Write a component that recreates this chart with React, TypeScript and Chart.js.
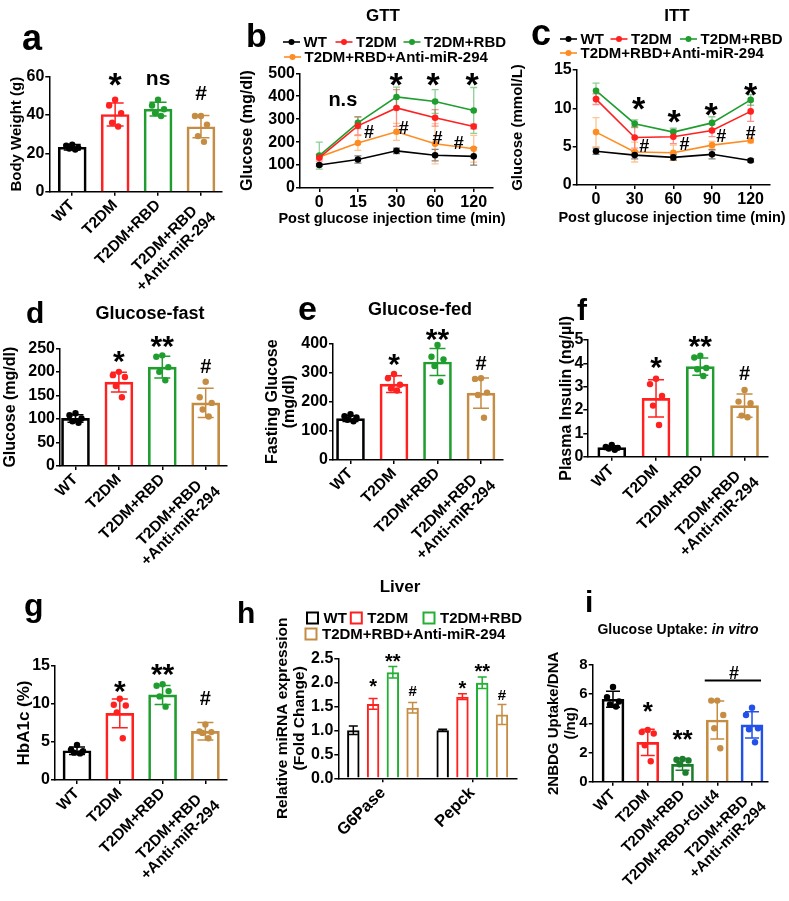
import React, { useEffect, useRef } from "react";
import { Chart, registerables } from "chart.js";

Chart.register(...registerables);

const PAGE_W = 789;
const PAGE_H = 901;
const FONT = "'Liberation Sans', Arial, Helvetica, sans-serif";

const BLACK = "#000000";
const RED = "#ff2020";
const GREEN = "#1f9e2f";
const TAN = "#c58c43";
const ORANGE = "#ff8c22";
const BLUE = "#2350e8";
const DARKGREEN = "#1c7d2c";

// ---------------- data ----------------
const GROUPS = ["WT", "T2DM", "T2DM+RBD", ["T2DM+RBD  ", "+Anti-miR-294"]];
const GROUPS_I = ["WT", "T2DM", "T2DM+RBD", "T2DM+RBD+Glut4", ["T2DM+RBD  ", "+Anti-miR-294"]];
const SERIES = ["WT", "T2DM", "T2DM+RBD", "T2DM+RBD+Anti-miR-294"];
const GTT_TIMES = ["0", "15", "30", "60", "120"];
const ITT_TIMES = ["0", "30", "60", "90", "120"];
const TIME_TITLE = "Post glucose injection time (min)";
const GENES = ["G6Pase", "Pepck"];

// a: body weight
const BW_MEAN = [23.2, 40.3, 43.1, 33.9];
const BW_SD = [1.4, 6.0, 3.6, 5.8];
const BW_PTS = [[24.5, 24, 23, 22.5, 22], [48, 45, 41, 36, 34], [48, 45, 43, 41, 39.5], [39.5, 39.5, 35, 29, 26]];
const BW_MARKS = [[1, 58.3, "*"], [2, 58.4, "ns"], [3, 51.5, "#"]];

// b: GTT
const GTT_WT = [100, 124, 162, 143, 138];
const GTT_WT_SD = [5, 16, 12, 25, 38];
const GTT_T2DM = [132, 271, 349, 306, 268];
const GTT_T2DM_SD = [15, 40, 80, 36, 10];
const GTT_RBD = [141, 284, 397, 377, 338];
const GTT_RBD_SD = [59, 25, 43, 52, 100];
const GTT_ANTI = [135, 196, 245, 193, 171];
const GTT_ANTI_SD = [10, 32, 37, 88, 58];
const GTT_MARKS = [[0.61, 357, "n.s"], [1.99, 474, "*"], [2.95, 474, "*"], [3.96, 474, "*"], [1.29, 248, "#"], [2.19, 263, "#"], [3.06, 220, "#"], [3.61, 200, "#"]];

// c: ITT
const ITT_WT = [4.4, 3.9, 3.6, 4.0, 3.2];
const ITT_WT_SD = [0.4, 0.5, 0.4, 0.6, 0.2];
const ITT_T2DM = [11.2, 6.2, 6.3, 7.1, 9.6];
const ITT_T2DM_SD = [0.7, 1.4, 0.9, 0.8, 1.3];
const ITT_RBD = [12.3, 8.0, 6.9, 8.1, 11.1];
const ITT_RBD_SD = [1.0, 0.5, 0.5, 0.8, 0.7];
const ITT_ANTI = [6.9, 4.3, 4.2, 5.2, 5.8];
const ITT_ANTI_SD = [1.9, 1.3, 1.0, 0.5, 0.3];
const ITT_MARKS = [[1.1, 9.4, "*"], [2.02, 8.9, "*"], [2.98, 9.9, "*"], [4.0, 12.5, "*"], [1.25, 5.2, "#"], [2.29, 5.4, "#"], [3.24, 6.4, "#"], [4.0, 6.8, "#"]];

// d: glucose fast
const GF_MEAN = [101, 178, 210, 134];
const GF_SD = [8, 21, 23, 31];
const GF_PTS = [[112, 108, 101, 95, 92], [200, 193, 189, 170, 146], [235, 232, 210, 200, 182], [179, 146, 134, 120, 105]];
const GF_MARKS = [[1, 232, "*"], [2, 264, "**"], [3, 212, "#"]];

// e: glucose fed
const GD_MEAN = [142, 260, 336, 229];
const GD_SD = [10, 29, 46, 52];
const GD_PTS = [[157, 150, 146, 138, 133], [295, 280, 258, 245, 238], [394, 354, 345, 322, 268], [280, 278, 231, 223, 145]];
const GD_MARKS = [[1, 343, "*"], [2, 429, "**"], [3, 333, "#"]];

// f: plasma insulin
const INS_MEAN = [0.39, 2.5, 3.86, 2.19];
const INS_SD = [0.08, 0.8, 0.37, 0.5];
const INS_PTS = [[0.5, 0.42, 0.38, 0.35, 0.3], [3.34, 3.11, 2.6, 2.19, 1.36], [4.33, 4.25, 3.8, 3.75, 3.46], [2.86, 2.36, 2.29, 1.76, 1.69]];
const INS_MARKS = [[1, 4.0, "*"], [2, 4.92, "**"], [3, 3.59, "#"]];

// g: HbA1c
const HBA_MEAN = [3.85, 8.77, 11.2, 6.4];
const HBA_SD = [0.5, 1.9, 1.25, 1.15];
const HBA_PTS = [[4.6, 4.0, 3.8, 3.6, 3.5], [10.7, 9.9, 9.8, 8.9, 5.5], [12.6, 12.4, 11.7, 11.0, 9.65], [7.3, 6.4, 6.3, 6.2, 5.5]];
const HBA_MARKS = [[1, 12.3, "*"], [2, 14.5, "**"], [3, 10.8, "#"]];

// h: liver expression
const LIV_WT = [1.0, 1.0];
const LIV_WT_SD = [0.09, 0.02];
const LIV_T2DM = [1.55, 1.7];
const LIV_T2DM_SD = [0.11, 0.06];
const LIV_RBD = [2.21, 1.99];
const LIV_RBD_SD = [0.12, 0.12];
const LIV_ANTI = [1.47, 1.33];
const LIV_ANTI_SD = [0.11, 0.21];
const LIV_MARKS = [[0, 1, 1.88, "*"], [0, 2, 2.5, "**"], [0, 3, 1.82, "#"], [1, 1, 1.94, "*"], [1, 2, 2.3, "**"], [1, 3, 1.74, "#"]];

// i: glucose uptake
const UP_MEAN = [5.65, 2.7, 1.19, 4.23, 3.89];
const UP_SD = [0.55, 0.9, 0.4, 1.3, 0.9];
const UP_PTS = [[6.5, 5.8, 5.5, 5.3, 5.15], [3.55, 3.4, 3.3, 2.5, 1.4], [1.56, 1.5, 1.45, 1.2, 0.62], [5.56, 5.56, 4.57, 3.66, 2.29], [5.07, 4.57, 3.66, 3.6, 2.7]];
const UP_MARKS = [[1, 5.14, "*"], [2, 3.2, "**"], [3.48, 7.48, "#"]];
const UP_BRACKET = [2.64, 4.26, 6.93];

// ---------------- drawing helpers ----------------
const JITTER = [0, -6, 6, -3, 3];

function withAlpha(hex: string, a: number) {
  const r = parseInt(hex.slice(1, 3), 16), g = parseInt(hex.slice(3, 5), 16), b = parseInt(hex.slice(5, 7), 16);
  return `rgba(${r},${g},${b},${a})`;
}

function drawErrors(chart: any, layer: string) {
  const ctx = chart.ctx;
  const ys = chart.scales.y;
  chart.data.datasets.forEach((ds: any, di: number) => {
    if (!ds.errs || (ds.errLayer || "after") !== layer) return;
    const meta = chart.getDatasetMeta(di);
    meta.data.forEach((el: any, i: number) => {
      const v = ds.vals[i];
      const e = ds.errs[i];
      const col = Array.isArray(ds.errColor) ? ds.errColor[i] : ds.errColor;
      const x = el.x;
      const y1 = ys.getPixelForValue(v + e);
      const y2 = ys.getPixelForValue(Math.max(0, v - e));
      const cw = ds.capW / 2;
      ctx.save();
      ctx.strokeStyle = col;
      ctx.lineWidth = ds.errW || 1.5;
      ctx.beginPath();
      ctx.moveTo(x, y1);
      ctx.lineTo(x, y2);
      ctx.moveTo(x - cw, y1);
      ctx.lineTo(x + cw, y1);
      ctx.moveTo(x - cw, y2);
      ctx.lineTo(x + cw, y2);
      ctx.stroke();
      ctx.restore();
    });
  });
}

function drawDots(chart: any) {
  const ctx = chart.ctx;
  const ys = chart.scales.y;
  chart.data.datasets.forEach((ds: any, di: number) => {
    if (!ds.pts) return;
    const meta = chart.getDatasetMeta(di);
    meta.data.forEach((el: any, i: number) => {
      const col = Array.isArray(ds.errColor) ? ds.errColor[i] : ds.errColor;
      ds.pts[i].forEach((p: number, k: number) => {
        ctx.save();
        ctx.fillStyle = col;
        ctx.beginPath();
        ctx.arc(el.x + JITTER[k % JITTER.length], ys.getPixelForValue(p), 3.2, 0, Math.PI * 2);
        ctx.fill();
        ctx.restore();
      });
    });
  });
}

function fillCentered(ctx: any, t: string, x: number, y: number) {
  const m = ctx.measureText(t);
  ctx.textAlign = "center";
  ctx.textBaseline = "alphabetic";
  ctx.fillText(t, x, y + (m.actualBoundingBoxAscent - m.actualBoundingBoxDescent) / 2);
}

function drawDecor(chart: any, d: any) {
  const ctx = chart.ctx;
  const xs = chart.scales.x;
  const ys = chart.scales.y;
  ctx.save();
  ctx.fillStyle = BLACK;
  if (d.letter) {
    ctx.font = `bold ${d.letter.size}px ${FONT}`;
    ctx.textAlign = "left";
    ctx.textBaseline = "alphabetic";
    ctx.fillText(d.letter.t, d.letter.x, d.letter.y);
  }
  (d.titles || []).forEach((tt: any) => {
    const fonts = tt.parts.map((p: any) => `${p.italic ? "italic " : ""}bold ${tt.size}px ${FONT}`);
    const widths = tt.parts.map((p: any, i: number) => {
      ctx.font = fonts[i];
      return ctx.measureText(p.t).width;
    });
    let x = tt.x - widths.reduce((a: number, b: number) => a + b, 0) / 2;
    ctx.textAlign = "left";
    ctx.textBaseline = "alphabetic";
    ctx.fillStyle = BLACK;
    tt.parts.forEach((p: any, i: number) => {
      ctx.font = fonts[i];
      ctx.fillText(p.t, x, tt.y);
      x += widths[i];
    });
  });
  if (d.legend) {
    const lg = d.legend;
    lg.items.forEach((it: any) => {
      ctx.save();
      ctx.strokeStyle = it.c;
      ctx.fillStyle = it.c;
      if (lg.kind === "line") {
        ctx.lineWidth = 1.6;
        ctx.beginPath();
        ctx.moveTo(it.x - 8.5, it.y);
        ctx.lineTo(it.x + 8.5, it.y);
        ctx.stroke();
        ctx.beginPath();
        ctx.arc(it.x, it.y, 3, 0, Math.PI * 2);
        ctx.fill();
      } else {
        ctx.lineWidth = 2;
        ctx.strokeRect(it.x - 5.5, it.y - 5.5, 11, 11);
      }
      ctx.restore();
      ctx.fillStyle = BLACK;
      ctx.font = `bold ${lg.size}px ${FONT}`;
      ctx.textAlign = "left";
      ctx.textBaseline = "middle";
      ctx.fillText(it.t, it.x + lg.gap, it.y + 1);
    });
  }
  if (d.marks) {
    d.marks.forEach((m: any[]) => {
      let px: number, py: number, t: string;
      if (m.length === 4) {
        px = chart.getDatasetMeta(m[1]).data[m[0]].x;
        py = ys.getPixelForValue(m[2]);
        t = m[3];
      } else {
        px = xs.getPixelForValue(m[0]);
        py = ys.getPixelForValue(m[1]);
        t = m[2];
      }
      const s = t.includes("*") ? d.markSize.star : t.includes("#") ? d.markSize.hash : d.markSize.text;
      ctx.font = `bold ${s}px ${FONT}`;
      ctx.fillStyle = BLACK;
      fillCentered(ctx, t, px, py);
    });
  }
  if (d.bracket) {
    const [x1, x2, y] = d.bracket;
    ctx.strokeStyle = BLACK;
    ctx.lineWidth = 2;
    ctx.beginPath();
    ctx.moveTo(xs.getPixelForValue(x1), ys.getPixelForValue(y));
    ctx.lineTo(xs.getPixelForValue(x2), ys.getPixelForValue(y));
    ctx.stroke();
  }
  ctx.restore();
}

function makeDecor(d: any) {
  return {
    id: "decor",
    beforeDatasetsDraw(chart: any) {
      drawErrors(chart, "before");
    },
    afterDatasetsDraw(chart: any) {
      drawErrors(chart, "after");
      drawDots(chart);
    },
    afterDraw(chart: any) {
      drawDecor(chart, d);
    },
  };
}

// ---------------- scale builders ----------------
function frame(L: number, T: number, R: number, B: number, yW: number, xH: number) {
  return { padding: { left: L - yW, right: PAGE_W - R, top: T, bottom: PAGE_H - B - xH } };
}

const gridOpts = { display: true, drawOnChartArea: false, drawTicks: true, tickLength: 4, color: BLACK, lineWidth: 1.5, offset: false };
const borderOpts = { display: true, color: BLACK, width: 1.5 };

function yAxis(o: any) {
  return {
    type: "linear",
    min: 0,
    max: o.max,
    afterFit: (s: any) => {
      s.width = o.yW;
    },
    ticks: {
      stepSize: o.step,
      color: BLACK,
      font: { family: FONT, size: o.tickSize || 16, weight: "bold" },
      padding: o.pad ?? 1,
      callback: o.fmt || ((v: any) => String(v)),
    },
    grid: gridOpts,
    border: borderOpts,
    title: {
      display: true,
      text: o.title,
      color: BLACK,
      font: { family: FONT, size: o.titleSize || 16, weight: "bold", lineHeight: o.lh || 1.2 },
      padding: 0,
    },
  };
}

function xIndexAxis(o: any) {
  return {
    type: "linear",
    min: o.min,
    max: o.max,
    offset: false,
    afterBuildTicks: (s: any) => {
      s.ticks = o.labels.map((_: any, i: number) => ({ value: i }));
    },
    afterFit: (s: any) => {
      s.height = o.xH;
    },
    ticks: {
      autoSkip: false,
      minRotation: o.rot,
      maxRotation: o.rot,
      color: BLACK,
      font: { family: FONT, size: o.size, weight: "bold", lineHeight: 1.12 },
      padding: o.pad ?? 1,
      callback: (v: any) => o.labels[Math.round(v)],
    },
    grid: gridOpts,
    border: borderOpts,
    title: { display: false },
  };
}

function baseOptions(layout: any, scales: any) {
  return {
    animation: false,
    responsive: false,
    events: [],
    layout,
    plugins: { legend: { display: false }, tooltip: { enabled: false }, title: { display: false } },
    scales,
  };
}

const BAR_XH = 118;

function barPanel(o: any) {
  const xH = o.xH || BAR_XH;
  const ds = {
    data: o.mean.map((y: number, i: number) => ({ x: i, y })),
    vals: o.mean,
    errs: o.sd,
    pts: o.pts,
    borderColor: o.colors,
    errColor: o.colors,
    backgroundColor: "rgba(255,255,255,0)",
    borderWidth: 2,
    barThickness: o.barW,
    capW: o.capW,
    borderSkipped: "bottom",
  };
  return {
    type: "bar",
    data: { datasets: [ds] },
    options: baseOptions(frame(o.L, o.T, o.R, o.B, o.yW, xH), {
      x: xIndexAxis({ labels: o.labels, min: o.xmin, max: o.xmax, xH, rot: o.rot || 45, size: o.xSize || 15.5, pad: 1 }),
      y: yAxis({ max: o.yMax, step: o.step, title: o.yTitle, titleSize: o.titleSize, tickSize: o.tickSize, yW: o.yW, lh: o.lh, pad: o.tickPad }),
    }),
    plugins: [makeDecor(o.decor)],
  };
}

function linePanel(o: any) {
  const datasets = o.series.map((s: any) => ({
    data: s.vals.map((y: number, i: number) => ({ x: i, y })),
    vals: s.vals,
    errs: s.sd,
    errColor: withAlpha(s.color, 0.5),
    errLayer: "before",
    capW: 7,
    errW: 1.3,
    borderColor: s.color,
    backgroundColor: s.color,
    pointBackgroundColor: s.color,
    pointBorderWidth: 0,
    pointRadius: 3.3,
    borderWidth: 1.6,
    tension: 0,
    fill: false,
  }));
  return {
    type: "line",
    data: { datasets },
    options: baseOptions(frame(o.L, o.T, o.R, o.B, o.yW, 40), {
      x: xIndexAxis({ labels: o.labels, min: -0.5, max: 4.5, xH: 40, rot: 0, size: 16, pad: 1.5 }),
      y: yAxis({ max: o.yMax, step: o.step, title: o.yTitle, titleSize: o.titleSize, tickSize: 16, yW: o.yW, pad: 1 }),
    }),
    plugins: [makeDecor(o.decor)],
  };
}

const COLORS4 = [BLACK, RED, GREEN, TAN];
const STD_MARK = { star: 30, hash: 20, text: 20 };

function configs() {
  const a = barPanel({
    labels: GROUPS, mean: BW_MEAN, sd: BW_SD, pts: BW_PTS, colors: COLORS4,
    L: 49.3, T: 76.7, R: 222, B: 191.7, yW: 41, xmin: -0.534, xmax: 3.49,
    yMax: 60, step: 10, yTitle: "Body Weight (g)", titleSize: 15, barW: 28, capW: 17,
    decor: { letter: { t: "a", x: 22, y: 50, size: 36 }, marks: BW_MARKS, markSize: { star: 34, hash: 21, text: 21 } },
  });

  const lineLegend = (x: number[], y: number[]) => ({
    kind: "line", size: 15, gap: 12,
    items: [
      { t: SERIES[0], x: x[0], y: y[0], c: BLACK },
      { t: SERIES[1], x: x[1], y: y[0], c: RED },
      { t: SERIES[2], x: x[2], y: y[0], c: GREEN },
      { t: SERIES[3], x: x[3], y: y[1], c: ORANGE },
    ],
  });

  const b = linePanel({
    labels: GTT_TIMES,
    series: [
      { vals: GTT_WT, sd: GTT_WT_SD, color: BLACK },
      { vals: GTT_T2DM, sd: GTT_T2DM_SD, color: RED },
      { vals: GTT_RBD, sd: GTT_RBD_SD, color: GREEN },
      { vals: GTT_ANTI, sd: GTT_ANTI_SD, color: ORANGE },
    ],
    L: 300, T: 73.3, R: 493, B: 188, yW: 61.6,
    yMax: 500, step: 100, yTitle: "Glucose (mg/dl)", titleSize: 16,
    decor: {
      letter: { t: "b", x: 246, y: 47, size: 34 },
      titles: [
        { parts: [{ t: "GTT" }], x: 383, y: 20.5, size: 17 },
        { parts: [{ t: TIME_TITLE }], x: 392, y: 223, size: 14.5 },
      ],
      legend: lineLegend([291.5, 344, 412, 292.5], [42, 57]),
      marks: GTT_MARKS, markSize: { star: 34, hash: 18, text: 20 },
    },
  });

  const c = linePanel({
    labels: ITT_TIMES,
    series: [
      { vals: ITT_WT, sd: ITT_WT_SD, color: BLACK },
      { vals: ITT_T2DM, sd: ITT_T2DM_SD, color: RED },
      { vals: ITT_RBD, sd: ITT_RBD_SD, color: GREEN },
      { vals: ITT_ANTI, sd: ITT_ANTI_SD, color: ORANGE },
    ],
    L: 576.7, T: 70, R: 770, B: 185, yW: 67.7,
    yMax: 15, step: 5, yTitle: "Glucose (mmol/L)", titleSize: 15,
    decor: {
      letter: { t: "c", x: 531, y: 45, size: 36 },
      titles: [
        { parts: [{ t: "ITT" }], x: 677, y: 20.5, size: 17 },
        { parts: [{ t: TIME_TITLE }], x: 672, y: 222, size: 14.5 },
      ],
      legend: lineLegend([568.5, 619, 688.5, 568.5], [39, 53]),
      marks: ITT_MARKS, markSize: { star: 34, hash: 18, text: 20 },
    },
  });

  const d = barPanel({
    labels: GROUPS, mean: GF_MEAN, sd: GF_SD, pts: GF_PTS, colors: COLORS4,
    L: 60, T: 348.3, R: 226.7, B: 466, yW: 58.6, xmin: -0.357, xmax: 3.484,
    yMax: 250, step: 50, yTitle: "Glucose (mg/dl)", titleSize: 16, barW: 28, capW: 16,
    decor: {
      letter: { t: "d", x: 26, y: 323, size: 30 },
      titles: [{ parts: [{ t: "Glucose-fast" }], x: 150, y: 318.5, size: 18 }],
      marks: GF_MARKS, markSize: STD_MARK,
    },
  });

  const e = barPanel({
    labels: GROUPS, mean: GD_MEAN, sd: GD_SD, pts: GD_PTS, colors: COLORS4,
    L: 333, T: 343.3, R: 503, B: 460, yW: 69, xmin: -0.402, xmax: 3.506,
    yMax: 400, step: 100, yTitle: ["Fasting Glucose", "(mg/dl)"], titleSize: 16, lh: 1.05, barW: 28, capW: 16,
    decor: {
      letter: { t: "e", x: 298, y: 320, size: 34 },
      titles: [{ parts: [{ t: "Glucose-fed" }], x: 420, y: 315, size: 18 }],
      marks: GD_MARKS, markSize: STD_MARK,
    },
  });

  const f = barPanel({
    labels: GROUPS, mean: INS_MEAN, sd: INS_SD, pts: INS_PTS, colors: COLORS4,
    L: 587.3, T: 340, R: 768, B: 456.7, yW: 30.4, xmin: -0.553, xmax: 3.53, tickPad: 0,
    yMax: 5, step: 1, yTitle: "Plasma Insulin (ng/µl)", titleSize: 16, barW: 28, capW: 16,
    decor: { letter: { t: "f", x: 577, y: 320, size: 30 }, marks: INS_MARKS, markSize: STD_MARK },
  });

  const g = barPanel({
    labels: GROUPS, mean: HBA_MEAN, sd: HBA_SD, pts: HBA_PTS, colors: COLORS4,
    L: 55, T: 666, R: 227, B: 780, yW: 41.2, xmin: -0.514, xmax: 3.505, xH: 114,
    yMax: 15, step: 5, yTitle: "HbA1c (%)", titleSize: 17, barW: 28, capW: 16,
    decor: { letter: { t: "g", x: 24, y: 616, size: 32 }, marks: HBA_MARKS, markSize: STD_MARK },
  });

  const hSeries = [
    { vals: LIV_WT, sd: LIV_WT_SD, color: BLACK, name: SERIES[0] },
    { vals: LIV_T2DM, sd: LIV_T2DM_SD, color: RED, name: SERIES[1] },
    { vals: LIV_RBD, sd: LIV_RBD_SD, color: "#22b033", name: SERIES[2] },
    { vals: LIV_ANTI, sd: LIV_ANTI_SD, color: TAN, name: SERIES[3] },
  ];
  const hL = 338.3, hT = 658.3, hR = 517, hB = 778.3, hYW = 63.4, hXH = 115;
  const h = {
    type: "bar",
    data: {
      labels: GENES,
      datasets: hSeries.map((s) => ({
        label: s.name,
        data: s.vals,
        vals: s.vals,
        errs: s.sd,
        errColor: s.color,
        capW: 9,
        borderColor: s.color,
        backgroundColor: "rgba(255,255,255,0)",
        borderWidth: 2,
        borderSkipped: "bottom",
        barPercentage: 0.63,
        categoryPercentage: 0.885,
      })),
    },
    options: baseOptions(frame(hL, hT, hR, hB, hYW, hXH), {
      x: {
        type: "category",
        offset: true,
        afterFit: (s: any) => {
          s.height = hXH;
        },
        ticks: { autoSkip: false, minRotation: 45, maxRotation: 45, color: BLACK, font: { family: FONT, size: 16.5, weight: "bold" }, padding: 1 },
        grid: gridOpts,
        border: borderOpts,
      },
      y: yAxis({
        max: 2.5, step: 0.5, title: ["Relative miRNA expression", "(Fold Change)"], titleSize: 15.5, lh: 1.05, tickSize: 16, yW: hYW, pad: 1,
        fmt: (v: any) => Number(v).toFixed(1),
      }),
    }),
    plugins: [
      makeDecor({
        letter: { t: "h", x: 237, y: 623, size: 30 },
        titles: [{ parts: [{ t: "Liver" }], x: 400, y: 591.5, size: 17 }],
        legend: {
          kind: "box", size: 15, gap: 11,
          items: [
            { t: SERIES[0], x: 312.5, y: 618, c: BLACK },
            { t: SERIES[1], x: 356.3, y: 618, c: RED },
            { t: SERIES[2], x: 429, y: 618, c: "#22b033" },
            { t: SERIES[3], x: 311, y: 634, c: TAN },
          ],
        },
        marks: LIV_MARKS, markSize: { star: 20, hash: 15, text: 15 },
      }),
    ],
  };

  const i = barPanel({
    labels: GROUPS_I, mean: UP_MEAN, sd: UP_SD, pts: UP_PTS, colors: [BLACK, RED, DARKGREEN, TAN, BLUE],
    L: 592.7, T: 665, R: 768, B: 781.7, yW: 47, xmin: -0.584, xmax: 4.46, xSize: 15, xH: 115,
    yMax: 8, step: 2, yTitle: ["2NBDG Uptake/DNA", "(/ng)"], titleSize: 15, lh: 1.1, tickSize: 15, barW: 22, capW: 14,
    decor: {
      letter: { t: "i", x: 585, y: 612, size: 30 },
      titles: [{ parts: [{ t: "Glucose Uptake: " }, { t: "in vitro", italic: true }], x: 678, y: 634, size: 14 }],
      marks: UP_MARKS, markSize: { star: 26, hash: 18, text: 18 },
      bracket: UP_BRACKET,
    },
  });

  return [a, b, c, d, e, f, g, h, i];
}

function ChartLayer({ config }: { config: any }) {
  const ref = useRef<HTMLCanvasElement | null>(null);
  useEffect(() => {
    const chart = new Chart(ref.current as HTMLCanvasElement, config);
    return () => chart.destroy();
  }, [config]);
  return (
    <canvas
      ref={ref}
      width={PAGE_W}
      height={PAGE_H}
      style={{ position: "absolute", left: 0, top: 0, width: PAGE_W, height: PAGE_H }}
    />
  );
}

const CONFIGS = configs();

export default function App() {
  return (
    <div style={{ position: "absolute", left: 0, top: 0, width: PAGE_W, height: PAGE_H, background: "#ffffff", overflow: "hidden" }}>
      {CONFIGS.map((c, k) => (
        <ChartLayer key={k} config={c} />
      ))}
    </div>
  );
}
